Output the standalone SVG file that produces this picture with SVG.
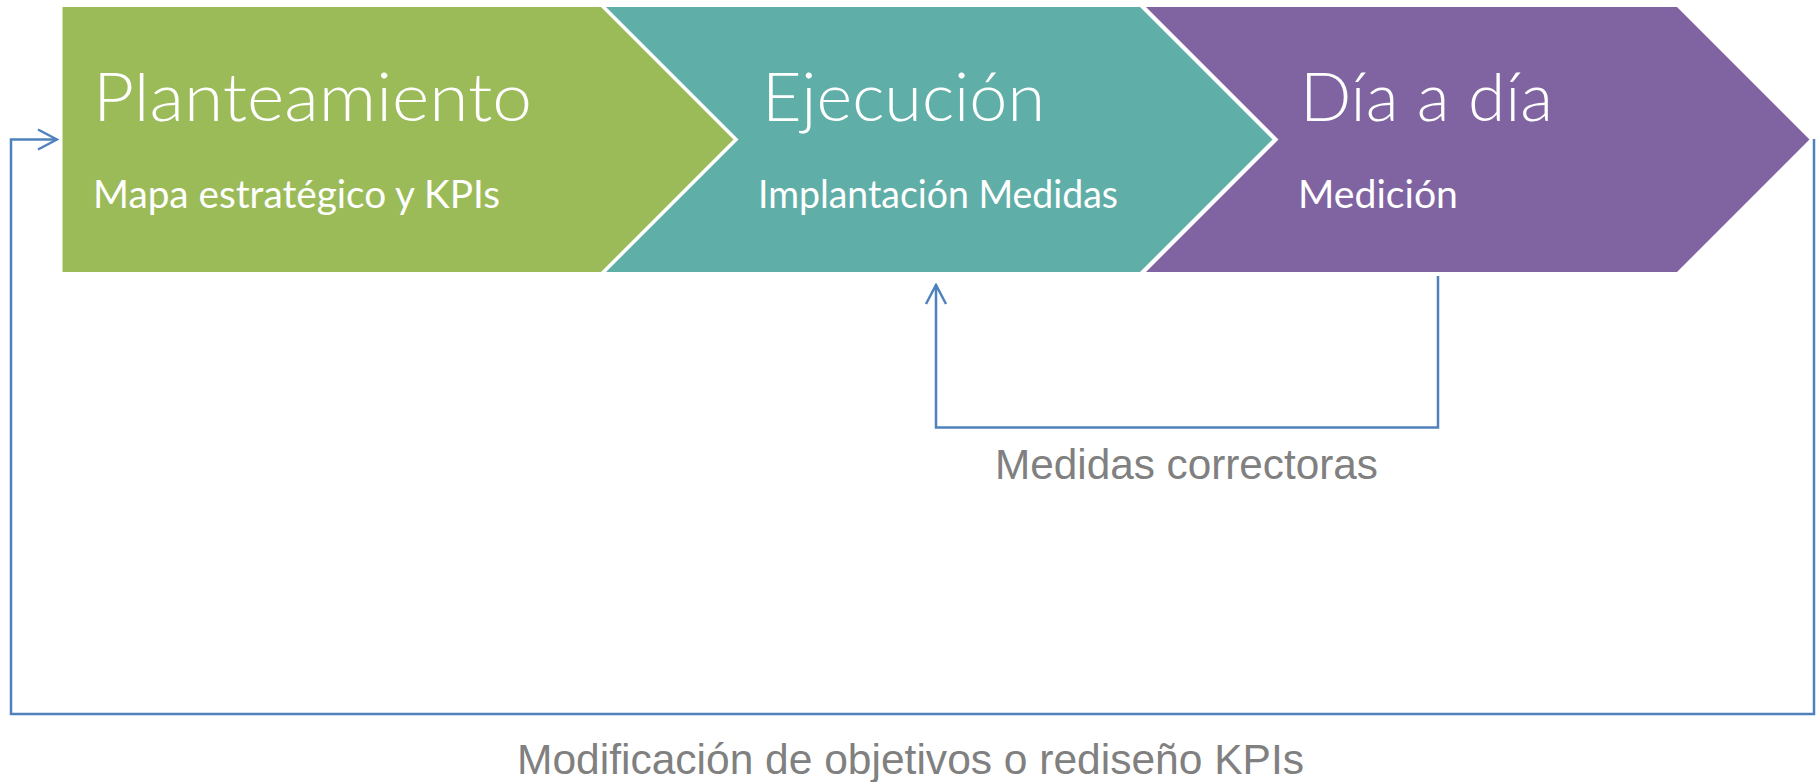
<svg xmlns="http://www.w3.org/2000/svg" width="1820" height="782" viewBox="0 0 1820 782">
<defs>
<style>
.title{font-family:Lato,"Open Sans","Liberation Sans",sans-serif;font-size:67px;font-weight:300;fill:#ffffff}
.sub{font-family:Lato,"Open Sans","Liberation Sans",sans-serif;font-size:38px;font-weight:400;fill:#ffffff}
.lbl{font-family:"Liberation Sans",Arial,sans-serif;font-size:42px;fill:#808080}
.conn{fill:none;stroke:#4F81BD;stroke-width:2.5}
</style>
<marker id="open" viewBox="-21 -12 23 24" markerWidth="23" markerHeight="24" refX="0" refY="0" orient="auto" markerUnits="userSpaceOnUse">
<path d="M-19,-10 L0,0 L-19,10" fill="none" stroke="#4F81BD" stroke-width="2.5"/>
</marker>
</defs>
<rect width="1820" height="782" fill="#ffffff"/>
<g id="planteamiento">
<path d="M62.5,7 H601 L733.5,139.5 L601,272 H62.5 Z" fill="#9BBB59"/>
<text class="title" x="93" y="121" textLength="439" lengthAdjust="spacingAndGlyphs">Planteamiento</text>
<text class="sub" x="93" y="208" textLength="407" lengthAdjust="spacingAndGlyphs">Mapa estratégico y KPIs</text>
</g>
<g id="ejecucion">
<path d="M606,7 H1140 L1272.5,139.5 L1140,272 H606 L738.5,139.5 Z" fill="#5FAEA7"/>
<text class="title" x="762" y="121" textLength="283" lengthAdjust="spacingAndGlyphs">Ejecución</text>
<text class="sub" x="758" y="208" textLength="360" lengthAdjust="spacingAndGlyphs">Implantación Medidas</text>
</g>
<g id="dia">
<path d="M1146,7 H1677 L1809.5,139.5 L1677,272 H1146 L1278.5,139.5 Z" fill="#8064A2"/>
<text class="title" x="1300" y="121" textLength="253" lengthAdjust="spacingAndGlyphs">Día a día</text>
<text class="sub" x="1298" y="208" textLength="160" lengthAdjust="spacingAndGlyphs">Medición</text>
</g>
<g id="connectors">
<path class="conn" d="M1814,139 V714 H11 V139.5 H57" marker-end="url(#open)"/>
<path class="conn" d="M1438,276 V427.5 H936 V285" marker-end="url(#open)"/>
</g>
<g id="labels">
<text class="lbl" x="995" y="479" textLength="383" lengthAdjust="spacingAndGlyphs">Medidas correctoras</text>
<text class="lbl" x="517" y="774" textLength="787" lengthAdjust="spacingAndGlyphs">Modificación de objetivos o rediseño KPIs</text>
</g>
</svg>
